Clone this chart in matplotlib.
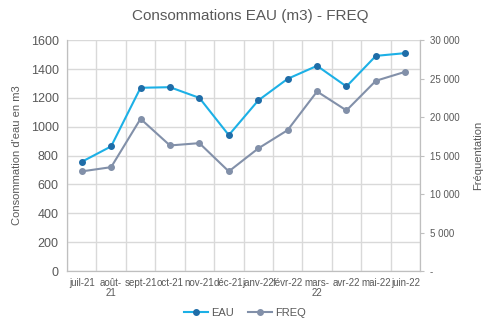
import matplotlib
matplotlib.use("Agg")
import matplotlib.pyplot as plt
from matplotlib.ticker import FuncFormatter, MultipleLocator, FixedLocator

plt.rcParams['font.family'] = ['Liberation Sans', 'DejaVu Sans']

months = ["juil-21", "août-\n21", "sept-21", "oct-21", "nov-21", "déc-21",
          "janv-22", "févr-22", "mars-\n22", "avr-22", "mai-22", "juin-22"]
eau = [757, 864, 1270, 1274, 1200, 942, 1182, 1332, 1422, 1279, 1491, 1510]
freq = [12950, 13500, 19780, 16320, 16620, 12950, 15930, 18310, 23330, 20870, 24720, 25890]

grid_c = "#D9D9D9"
text_c = "#595959"
eau_line = "#1CB0E6"
eau_mark = "#1F6DA8"
freq_c = "#8290A9"

fig = plt.figure(figsize=(5.0, 3.29), dpi=100)
ax = fig.add_axes([0.134, 0.176, 0.706, 0.702])
ax2 = ax.twinx()

x = list(range(len(months)))
l1, = ax.plot(x, eau, color=eau_line, lw=1.5, marker="o", ms=4,
              mfc=eau_mark, mec=eau_mark, label="EAU", zorder=4)
l2, = ax2.plot(x, freq, color=freq_c, lw=1.5, marker="o", ms=4,
               mfc=freq_c, mec=freq_c, label="FREQ", zorder=3)

ax.set_xlim(-0.5, len(months) - 0.5)
ax.set_ylim(0, 1600)
ax.yaxis.set_major_locator(MultipleLocator(200))
ax2.set_ylim(0, 30000)
ax2.yaxis.set_major_locator(MultipleLocator(5000))

ax.set_xticks(x)
ax.set_xticklabels(months, fontsize=7, color=text_c, linespacing=0.95)
ax.xaxis.set_minor_locator(FixedLocator([i - 0.5 for i in range(len(months) + 1)]))
ax.tick_params(axis="x", which="both", length=0, pad=5)
ax.grid(axis="x", which="minor", color=grid_c, lw=1)
ax.grid(axis="y", which="major", color=grid_c, lw=1)
ax.set_axisbelow(True)

ax.tick_params(axis="y", length=0, labelsize=9, labelcolor=text_c, pad=6)
ax2.tick_params(axis="y", length=3, color="#BFBFBF", labelsize=7,
                labelcolor=text_c, pad=4)
ax2.yaxis.set_major_formatter(FuncFormatter(
    lambda v, p: "-" if v == 0 else f"{int(v):,}".replace(",", " ")))

for a in (ax, ax2):
    a.spines["top"].set_visible(False)
    a.spines["left"].set_color("#BFBFBF")
    a.spines["right"].set_color("#BFBFBF")
    a.spines["bottom"].set_color("#BFBFBF")

ax.set_ylabel("Consommation d'eau en m3", fontsize=8, color=text_c, labelpad=6)
ax2.set_ylabel("Fréquentation", fontsize=8, color=text_c, labelpad=10)

fig.suptitle("Consommations EAU (m3) - FREQ", fontsize=11, color=text_c, y=0.972)

fig.legend(handles=[l1, l2], loc="center", bbox_to_anchor=(0.49, 0.05), ncol=2,
           frameon=False, fontsize=8, labelcolor=text_c, handlelength=2.2,
           columnspacing=1.2, handletextpad=0.3)

fig.savefig("out.png", dpi=100)
